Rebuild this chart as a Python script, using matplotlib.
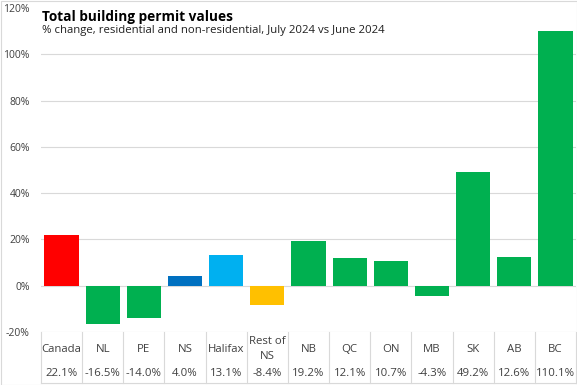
import matplotlib.pyplot as plt
from matplotlib.transforms import blended_transform_factory
from matplotlib.patches import Rectangle

plt.rcParams['font.family'] = ['Open Sans', 'DejaVu Sans']

regions = ['Canada', 'NL', 'PE', 'NS', 'Halifax', 'Rest of\nNS', 'NB', 'QC',
           'ON', 'MB', 'SK', 'AB', 'BC']
pct_change = [22.1, -16.5, -14.0, 4.0, 13.1, -8.4, 19.2, 12.1, 10.7, -4.3,
              49.2, 12.6, 110.1]
bar_colors = ['#FF0000', '#00B050', '#00B050', '#0070C0', '#00B0F0', '#FFC000',
              '#00B050', '#00B050', '#00B050', '#00B050', '#00B050', '#00B050',
              '#00B050']
y_ticks = [-20, 0, 20, 40, 60, 80, 100, 120]

W, H = 577, 385
fig = plt.figure(figsize=(W / 100, H / 100), dpi=100)
ax = fig.add_axes([41 / W, (H - 332) / H, (576 - 41) / W, (332 - 8) / H])

x = range(len(regions))
ax.bar(x, pct_change, width=0.83, color=bar_colors, zorder=3)

ax.set_xlim(-0.5, len(regions) - 0.5)
ax.set_ylim(-20, 120)
ax.set_yticks(y_ticks)
ax.set_yticklabels([f'{v}%' for v in y_ticks], fontsize=7.5, color='#404040')
ax.tick_params(axis='y', length=0, pad=8)
ax.set_xticks([])
for s in ax.spines.values():
    s.set_visible(False)
for v in y_ticks[:-1]:
    ax.axhline(v, color='#D9D9D9', lw=0.8, zorder=1)

# data table under the plot
tr = blended_transform_factory(ax.transData, fig.transFigure)
for i in range(len(regions) + 1):
    ax.plot([i - 0.5, i - 0.5], [(H - 332) / H, 2 / H], transform=tr,
            color='#D9D9D9', lw=0.8, clip_on=False)
ax.plot([-0.5, len(regions) - 0.5], [2 / H, 2 / H], transform=tr,
        color='#D9D9D9', lw=0.8, clip_on=False)
for i, (lab, v) in enumerate(zip(regions, pct_change)):
    ax.text(i, (H - 349) / H, lab, transform=tr, ha='center', va='center',
            fontsize=8.2, color='#404040', linespacing=1.45)
    ax.text(i, (H - 373) / H, f'{v:.1f}%', transform=tr, ha='center',
            va='center', fontsize=8.2, color='#404040')

# white box behind the title hides the top gridline
fig.patches.append(Rectangle((38 / W, (H - 42) / H), 400 / W, 38 / H,
                             transform=fig.transFigure, color='white', zorder=2))
fig.text(42 / W, (H - 17) / H, 'Total building permit values', fontsize=9.8,
         fontweight='bold', va='center', color='black', zorder=3)
fig.text(42 / W, (H - 31) / H,
         '% change, residential and non-residential, July 2024 vs June 2024',
         fontsize=8.2, va='center', color='#202020', zorder=3)

fig.patches.append(Rectangle((0.5 / W, 0.5 / H), (W - 1) / W, (H - 1) / H,
                             transform=fig.transFigure, fill=False,
                             edgecolor='#D9D9D9', lw=0.8))

fig.savefig('out.png', dpi=100)
